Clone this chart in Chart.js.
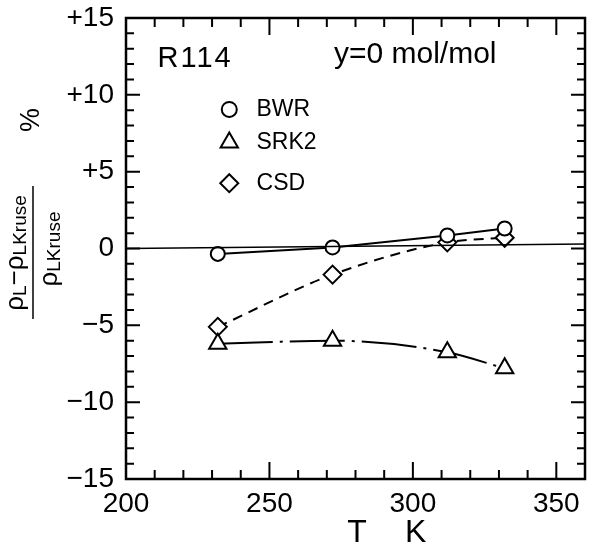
<!DOCTYPE html>
<html>
<head>
<meta charset="utf-8">
<script src="https://cdn.jsdelivr.net/npm/chart.js@4"></script>
<style>
html, body { margin: 0; padding: 0; background: #fff; }
</style>
</head>
<body>
<canvas id="chart" width="589" height="550"></canvas>
<script>
// values (T in K, deviation in %)
var temps = [232, 272, 312, 332];
var bwr = [-0.35, 0.07, 0.85, 1.3];
var srk2 = [-6.2, -6.0, -6.75, -7.8];
var csd = [-5.1, -1.7, 0.4, 0.7];
var zeroT = [200, 360];
var zeroLine = [0, 0.3];
var xTicks = [200, 250, 300, 350];
var yTicks = [-15, -10, -5, 0, 5, 10, 15];
var legendNames = ['BWR', 'SRK2', 'CSD'];
var legendShapes = ['circle', 'triangle', 'rectRot'];

var FONT = '"Liberation Sans", Arial, sans-serif';

function pts(xs, ys) {
    return xs.map(function (x, i) { return {x: x, y: ys[i]}; });
}

function shape(ctx, kind, x, y, r) {
    ctx.beginPath();
    if (kind === 'circle') {
        ctx.arc(x, y, r, 0, Math.PI * 2);
    } else if (kind === 'triangle') {
        ctx.moveTo(x, y - r);
        ctx.lineTo(x + r * 0.866, y + r / 2);
        ctx.lineTo(x - r * 0.866, y + r / 2);
        ctx.closePath();
    } else {
        ctx.moveTo(x, y - r);
        ctx.lineTo(x + r, y);
        ctx.lineTo(x, y + r);
        ctx.lineTo(x - r, y);
        ctx.closePath();
    }
    ctx.fillStyle = '#fff';
    ctx.fill();
    ctx.stroke();
}

// draws text runs one after another, each run [text, size, dy]
function runs(ctx, list, x, y) {
    var w = 0;
    list.forEach(function (r) {
        ctx.font = r[1] + 'px ' + FONT;
        w += ctx.measureText(r[0]).width;
    });
    var cx = x - w / 2;
    list.forEach(function (r) {
        ctx.font = r[1] + 'px ' + FONT;
        ctx.fillText(r[0], cx, y + r[2]);
        cx += ctx.measureText(r[0]).width;
    });
}

var framePlugin = {
    id: 'frame',
    afterDraw: function (chart) {
        var ctx = chart.ctx;
        var a = chart.chartArea;
        var xs = chart.scales.x, ys = chart.scales.y;
        ctx.save();
        ctx.strokeStyle = '#000';
        ctx.fillStyle = '#000';

        // frame
        ctx.lineWidth = 2.5;
        ctx.strokeRect(a.left, a.top, a.right - a.left, a.bottom - a.top);

        // inside ticks on all four sides
        ctx.lineWidth = 2;
        ctx.beginPath();
        for (var t = 210; t < 360; t += 10) {
            var px = xs.getPixelForValue(t);
            var len = t % 50 === 0 ? 17 : 9;
            ctx.moveTo(px, a.bottom); ctx.lineTo(px, a.bottom - len);
            ctx.moveTo(px, a.top); ctx.lineTo(px, a.top + len);
        }
        for (var v = -14; v < 15; v++) {
            var py = ys.getPixelForValue(v);
            var l2 = v % 5 === 0 ? 14 : 8;
            ctx.moveTo(a.left, py); ctx.lineTo(a.left + l2, py);
            ctx.moveTo(a.right, py); ctx.lineTo(a.right - l2, py);
        }
        ctx.stroke();

        // labels inside the plot
        ctx.textBaseline = 'middle';
        ctx.textAlign = 'left';
        ctx.font = '29px ' + FONT;
        ctx.letterSpacing = '2px';
        ctx.fillText('R114', xs.getPixelForValue(211), ys.getPixelForValue(12.3));
        ctx.letterSpacing = '0px';
        ctx.font = '30px ' + FONT;
        ctx.fillText('y=0 mol/mol', xs.getPixelForValue(272.5), ys.getPixelForValue(12.6));

        // legend
        ctx.lineWidth = 2;
        ctx.font = '23px ' + FONT;
        var legY = [9.05, 6.9, 4.25];
        var sizes = [7.5, 10, 9];
        legendNames.forEach(function (name, i) {
            var ly = ys.getPixelForValue(legY[i]);
            shape(ctx, legendShapes[i], xs.getPixelForValue(236), ly, sizes[i]);
            ctx.fillStyle = '#000';
            ctx.fillText(name, xs.getPixelForValue(245.5), ly);
        });

        // x axis title
        ctx.textAlign = 'center';
        ctx.font = '32px ' + FONT;
        ctx.fillText('T', xs.getPixelForValue(280.5), 533);
        ctx.fillText('K', xs.getPixelForValue(301), 533);

        // y axis title as a fraction, rotated
        ctx.save();
        ctx.translate(33, 253);
        ctx.rotate(-Math.PI / 2);
        ctx.textAlign = 'left';
        ctx.textBaseline = 'alphabetic';
        runs(ctx, [['\u03c1', 26, 0], ['L', 19, 3], ['\u2212', 26, 0], ['\u03c1', 26, 0], ['LKruse', 19, 3]], 0, -10);
        runs(ctx, [['\u03c1', 26, 0], ['LKruse', 19, 3]], 4, 24);
        ctx.lineWidth = 1.5;
        ctx.beginPath();
        ctx.moveTo(-66, 0); ctx.lineTo(67, 0);
        ctx.stroke();
        ctx.restore();

        ctx.save();
        ctx.translate(32, 120);
        ctx.rotate(-Math.PI / 2);
        ctx.textAlign = 'center';
        ctx.textBaseline = 'middle';
        ctx.font = '27px ' + FONT;
        ctx.fillText('%', 0, 0);
        ctx.restore();

        ctx.restore();
    }
};

var ctx = document.getElementById('chart').getContext('2d');
var myChart = new Chart(ctx, {
    type: 'scatter',
    data: {
        datasets: [{
            label: 'zero',
            data: pts(zeroT, zeroLine),
            showLine: true,
            borderColor: '#000',
            borderWidth: 1.5,
            pointRadius: 0
        }, {
            label: 'BWR',
            data: pts(temps, bwr),
            showLine: true,
            borderColor: '#000',
            borderWidth: 2,
            pointStyle: 'circle',
            pointRadius: 7,
            pointBorderWidth: 2,
            pointBorderColor: '#000',
            pointBackgroundColor: '#fff'
        }, {
            label: 'SRK2',
            data: pts(temps, srk2),
            showLine: true,
            cubicInterpolationMode: 'monotone',
            borderColor: '#000',
            borderWidth: 2,
            borderDash: [55, 7, 3, 7],
            pointStyle: 'triangle',
            pointRadius: 10,
            pointBorderWidth: 2,
            pointBorderColor: '#000',
            pointBackgroundColor: '#fff'
        }, {
            label: 'CSD',
            data: pts(temps, csd),
            showLine: true,
            cubicInterpolationMode: 'monotone',
            borderColor: '#000',
            borderWidth: 2,
            borderDash: [10, 7],
            pointStyle: 'rectRot',
            pointRadius: 9,
            pointBorderWidth: 2,
            pointBorderColor: '#000',
            pointBackgroundColor: '#fff'
        }]
    },
    options: {
        responsive: false,
        animation: false,
        layout: { autoPadding: false, padding: { top: 18, right: 4, left: 0, bottom: 0 } },
        plugins: {
            legend: { display: false },
            tooltip: { enabled: false }
        },
        scales: {
            x: {
                type: 'linear',
                min: 200,
                max: 360,
                grid: { display: false, drawTicks: false },
                border: { display: false },
                afterBuildTicks: function (s) { s.ticks = xTicks.map(function (v) { return {value: v}; }); },
                afterFit: function (s) { s.height = 71; s.paddingLeft = 0; s.paddingRight = 0; },
                ticks: {
                    color: '#000',
                    padding: 8,
                    maxRotation: 0,
                    font: { family: FONT, size: 28 }
                }
            },
            y: {
                type: 'linear',
                min: -15,
                max: 15,
                grid: { display: false, drawTicks: false },
                border: { display: false },
                afterBuildTicks: function (s) { s.ticks = yTicks.map(function (v) { return {value: v}; }); },
                afterFit: function (s) { s.width = 126; s.paddingTop = 0; s.paddingBottom = 0; },
                ticks: {
                    color: '#000',
                    padding: 12,
                    font: { family: FONT, size: 28 },
                    callback: function (v) {
                        if (v > 0) return '+' + v;
                        if (v < 0) return '\u2212' + Math.abs(v);
                        return '0';
                    }
                }
            }
        }
    },
    plugins: [framePlugin]
});
</script>
</body>
</html>
